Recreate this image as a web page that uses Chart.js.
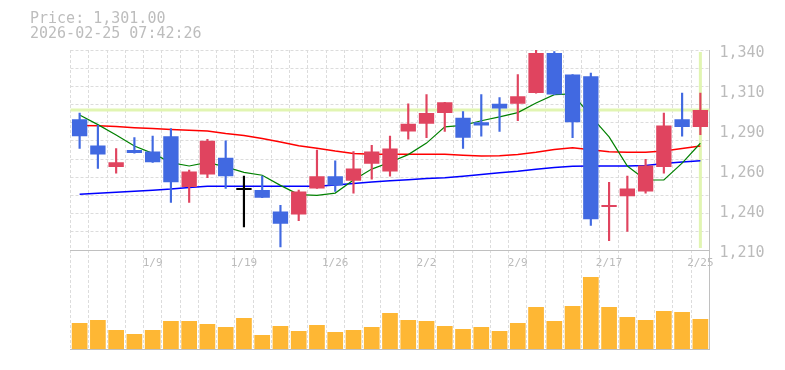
<!DOCTYPE html>
<html>
<head>
<meta charset="utf-8">
<script src="https://cdn.jsdelivr.net/npm/chart.js@4/dist/chart.umd.min.js"></script>
<style>
html,body{margin:0;padding:0;background:#fff;}
#wrap{position:relative;width:785px;height:370px;overflow:hidden;background:#fff;}
#wrap canvas{position:absolute;left:0;top:0;}
#info{position:absolute;left:30px;top:11px;font-family:"DejaVu Sans Mono",monospace;font-size:15px;line-height:15px;color:#bdbdbd;white-space:pre;}
</style>
</head>
<body>
<div id="wrap">
  <canvas id="vol" width="785" height="370"></canvas>
  <canvas id="price" width="785" height="370"></canvas>
  <div id="info">Price: 1,301.00
2026-02-25 07:42:26</div>
</div>
<script>
// ---- data ----
const dates = ['1/5','1/6','1/7','1/8','1/9','1/13','1/14','1/15','1/16','1/19','1/20','1/21','1/22','1/23',
  '1/26','1/27','1/28','1/29','1/30','2/2','2/3','2/4','2/5','2/6','2/9','2/10','2/12','2/13',
  '2/16','2/17','2/18','2/19','2/20','2/24','2/25'];
const labeledDates = ['1/9','1/19','1/26','2/2','2/9','2/17','2/25'];

const opens  = [1295,1278,1264,1275,1274,1284,1251,1259,1270,1249,1249,1235,1233,1250,1258,1255,1266,1261,1287,1292,1299,1296,1293,1305,1305,1312,1338,1324,1323,1238,1245,1248,1264,1295,1290];
const highs  = [1299,1291,1276,1283,1284,1289,1262,1282,1281,1258,1258,1239,1249,1275,1268,1274,1278,1284,1305,1311,1306,1300,1311,1309,1324,1340,1339,1324,1325,1254,1258,1269,1299,1312,1312];
const lows   = [1276,1263,1260,1273,1267,1241,1241,1257,1250,1225,1244,1212,1229,1250,1248,1247,1256,1258,1282,1283,1287,1276,1284,1287,1294,1312,1311,1283,1226,1216,1222,1247,1260,1284,1285];
const closes = [1284,1272,1267,1273,1267,1254,1261,1281,1258,1249,1244,1227,1248,1258,1252,1263,1274,1276,1292,1299,1306,1283,1291,1302,1310,1338,1311,1293,1230,1239,1250,1265,1291,1290,1301];

const ma5  = [1297.7,1291.5,1284.8,1277.6,1272.8,1266.8,1264.6,1267,1264,1260.5,1258.6,1252,1246,1245.5,1247,1255.5,1262.6,1267,1272,1279.5,1290,1291,1294,1296.5,1299.3,1305.5,1311,1311.5,1297,1283.5,1264.6,1255.5,1255.5,1266.5,1279.4];
const ma25 = [1291,1290.8,1290.2,1289.5,1289,1288.4,1287.8,1287.3,1285.7,1284.4,1282.5,1280.2,1277.8,1276.2,1274.3,1272.8,1272.2,1272.2,1272.2,1272.2,1272.2,1271.6,1271.1,1271.3,1272,1273.5,1275.3,1276.5,1275.1,1273.8,1273.6,1273.5,1274.4,1276,1277.6];
const ma75 = [1246.2,1246.9,1247.5,1248.2,1248.8,1249.6,1250.7,1251.4,1251.4,1251.4,1251.4,1251.4,1251.4,1251.5,1252.2,1253.3,1254.2,1255,1255.7,1256.4,1257,1258,1259.1,1260.2,1261.2,1262.5,1263.7,1264.4,1264.6,1264.6,1264.6,1265,1266.3,1267.2,1268];

const volumes = [26000,29000,19000,15000,19000,28000,28000,25000,22000,31000,14000,23000,18000,24000,17000,19000,22000,36000,29000,28000,23000,20000,22000,18000,26000,42000,28000,43000,72000,42000,32000,29000,38000,37000,30000];

const currentPrice = 1301;
const yMin = 1210, yMax = 1340, gridDivisions = 11;
const yTickValues = [1210,1236,1262,1288,1314,1340];
const yTickLabels = ['1,210','1,240','1,260','1,290','1,310','1,340'];
const volMax = 99000;

// ---- styles ----
const UP = '#e0445f', DOWN = '#4169e1', FLAT = '#000000';
const gridColor = '#dcdcdc', axisColor = '#c0c0c0', textColor = '#bbbbbb';
const mono = '"DejaVu Sans Mono", monospace';
const LEFT = 70.5, RIGHT_W = 75.5;

const candleColor = opens.map((o, i) => closes[i] > o ? UP : (closes[i] < o ? DOWN : FLAT));

const markerPlugin = {
  id: 'marker',
  beforeDatasetsDraw(chart) {
    const {ctx, chartArea: a, scales: {x, y}} = chart;
    const py = y.getPixelForValue(currentPrice);
    const px = x.getPixelForValue(dates.length - 1);
    ctx.save();
    ctx.strokeStyle = '#e1f5b2';
    ctx.lineWidth = 3;
    ctx.beginPath();
    ctx.moveTo(a.left, py); ctx.lineTo(a.right, py);
    ctx.moveTo(px, a.top + 2); ctx.lineTo(px, a.bottom - 2);
    ctx.stroke();
    ctx.restore();
  }
};

// ---- volume chart ----
new Chart(document.getElementById('vol'), {
  type: 'bar',
  data: {
    labels: dates,
    datasets: [{data: volumes, backgroundColor: '#feb734', barPercentage: 0.86, categoryPercentage: 1}]
  },
  options: {
    responsive: false, animation: false, devicePixelRatio: 1,
    layout: {padding: {left: LEFT, top: 250, right: RIGHT_W, bottom: 0}},
    plugins: {legend: {display: false}, tooltip: {enabled: false}},
    scales: {
      x: {
        offset: true,
        grid: {offset: true, color: gridColor, drawTicks: false},
        border: {display: true, color: axisColor, width: 1, dash: [3, 2]},
        ticks: {display: false},
        afterFit(s) { s.height = 21; }
      },
      y: {
        position: 'right', min: 0, max: volMax,
        grid: {display: false, drawTicks: false},
        border: {display: true, color: axisColor, width: 1},
        ticks: {display: false},
        afterFit(s) { s.width = 0; }
      }
    }
  }
});

// ---- price chart ----
new Chart(document.getElementById('price'), {
  type: 'bar',
  data: {
    labels: dates,
    datasets: [
      {type: 'bar', data: opens.map((o, i) => [o, closes[i]]), backgroundColor: candleColor,
       grouped: false, barPercentage: 0.84, categoryPercentage: 1, minBarLength: 2, order: 0},
      {type: 'bar', data: lows.map((l, i) => [l, highs[i]]), backgroundColor: candleColor,
       grouped: false, barThickness: 1.5, order: 1},
      {type: 'line', data: ma5, borderColor: '#008000', borderWidth: 1.2, pointRadius: 0, order: 2},
      {type: 'line', data: ma25, borderColor: '#ff0000', borderWidth: 1.5, pointRadius: 0, order: 3},
      {type: 'line', data: ma75, borderColor: '#0000ff', borderWidth: 1.5, pointRadius: 0, order: 4}
    ]
  },
  options: {
    responsive: false, animation: false, devicePixelRatio: 1,
    layout: {padding: {left: LEFT, top: 50, right: 0, bottom: 0}},
    plugins: {legend: {display: false}, tooltip: {enabled: false}},
    scales: {
      x: {
        type: 'category', offset: true,
        grid: {offset: true, color: gridColor, drawTicks: false},
        border: {display: true, color: axisColor, width: 1, dash: [3, 2]},
        ticks: {
          autoSkip: false, maxRotation: 0, padding: 7, color: textColor,
          font: {family: mono, size: 11},
          callback: function (v) { const d = this.getLabelForValue(v); return labeledDates.includes(d) ? d : ''; }
        },
        afterFit(s) { s.height = 120; }
      },
      y: {
        position: 'right', min: yMin, max: yMax,
        grid: {color: gridColor, drawTicks: false},
        border: {display: true, color: axisColor, width: 1, dash: [3, 2]},
        ticks: {display: false},
        afterBuildTicks(s) {
          const t = [];
          for (let k = 0; k <= gridDivisions; k++) t.push({value: yMin + (yMax - yMin) * k / gridDivisions});
          s.ticks = t;
        },
        afterFit(s) { s.width = 0; }
      },
      yl: {
        position: 'right', min: yMin, max: yMax,
        grid: {display: false, drawTicks: false},
        border: {display: false},
        afterBuildTicks(s) { s.ticks = yTickValues.map(v => ({value: v})); },
        ticks: {padding: 10, labelOffset: 3, color: textColor, font: {family: mono, size: 15},
                callback: (v, i) => yTickLabels[i]},
        afterFit(s) { s.width = RIGHT_W; }
      }
    }
  },
  plugins: [markerPlugin]
});
</script>
</body>
</html>
